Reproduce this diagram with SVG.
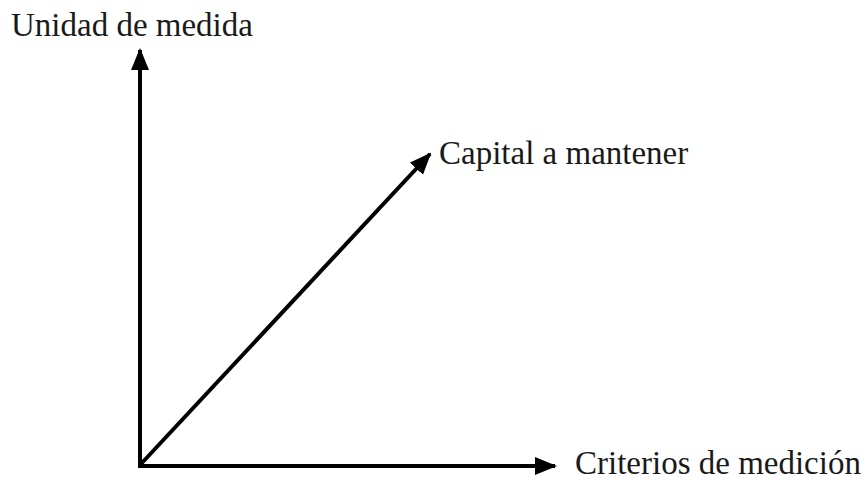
<svg xmlns="http://www.w3.org/2000/svg" width="867" height="480" viewBox="0 0 867 480">
<style>
.ax{stroke:#000;stroke-width:4;fill:none}
.lb{font-family:"Liberation Serif","Times New Roman",serif;font-size:33px;fill:#1a1a1a}
</style>
<defs>
<marker id="ah" markerUnits="userSpaceOnUse" markerWidth="22" markerHeight="18" refX="20" refY="9" orient="auto">
<path d="M0,0 L22,9 L0,18 Z" fill="#000"/>
</marker>
</defs>
<rect width="867" height="480" fill="#fff"/>
<g id="connectors">
<line class="ax" x1="140" y1="466" x2="140" y2="50" marker-end="url(#ah)"/>
<line class="ax" x1="138" y1="466" x2="555" y2="466" marker-end="url(#ah)"/>
<line class="ax" x1="140" y1="465" x2="430" y2="154" marker-end="url(#ah)"/>
</g>
<g id="unidad"><text class="lb" x="11" y="36">Unidad de medida</text></g>
<g id="capital"><text class="lb" x="439" y="164">Capital a mantener</text></g>
<g id="criterios"><text class="lb" x="575" y="474">Criterios de medición</text></g>
</svg>
